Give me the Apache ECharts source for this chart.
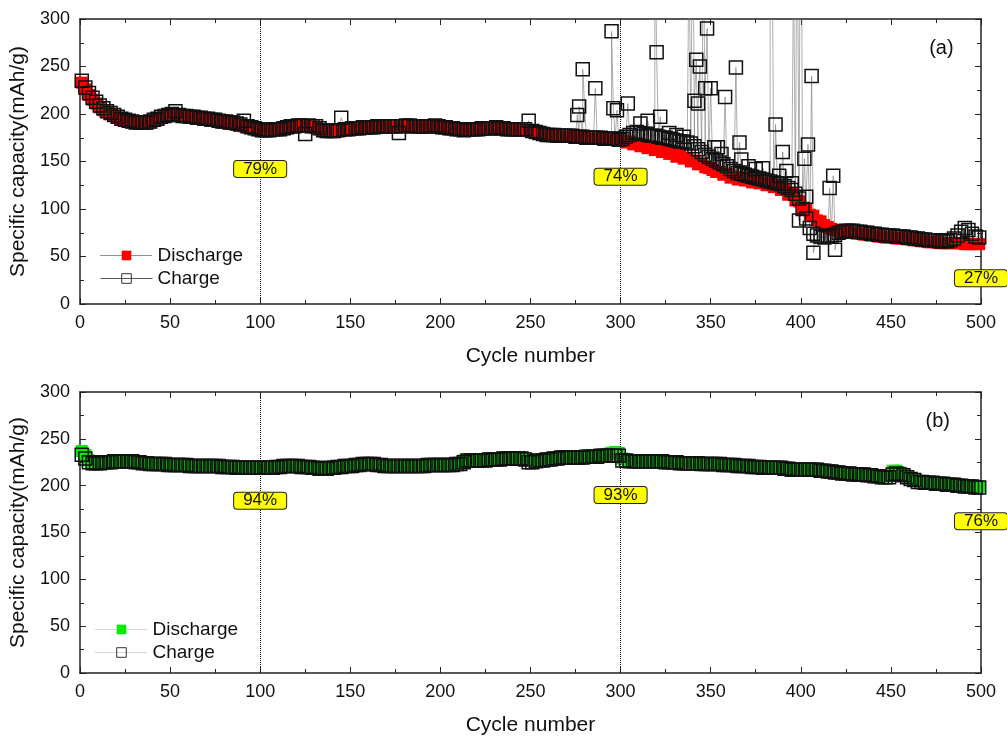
<!DOCTYPE html>
<html>
<head>
<meta charset="utf-8">
<script src="https://cdn.jsdelivr.net/npm/echarts@6/dist/echarts.min.js"></script>
<style>
html, body { margin: 0; padding: 0; background: #fff; }
#chart { width: 1007px; height: 737px; }
</style>
</head>
<body>
<div id="chart"></div>
<script>
// values read every 2nd cycle: 1, 3, 5, ... 499
const CYCLE_START = 1
const CYCLE_STEP = 2

// (a) discharge / charge capacity, mAh/g (one row = 50 cycles)
const dischargeA = [
  233, 226, 220, 215, 211, 207, 204, 202, 200, 198, 196, 194, 193, 192, 191, 190, 190, 190, 190, 191, 193, 194, 196, 197, 198,
  198, 199, 198, 197, 197, 196, 196, 195, 195, 194, 194, 193, 193, 192, 191, 191, 190, 190, 189, 188, 187, 186, 185, 184, 183,
  182, 182, 182, 183, 183, 183, 184, 185, 186, 186, 187, 187, 188, 187, 186, 186, 184, 182, 181, 181, 181, 182, 182, 183, 183,
  184, 184, 184, 185, 185, 185, 185, 186, 186, 186, 186, 186, 186, 186, 186, 187, 187, 186, 186, 186, 186, 186, 186, 187, 186,
  185, 185, 184, 184, 183, 183, 182, 183, 183, 183, 183, 184, 184, 184, 184, 185, 184, 184, 183, 183, 183, 183, 183, 183, 182,
  181, 180, 179, 178, 177, 177, 177, 176, 176, 176, 176, 176, 175, 175, 175, 174, 174, 174, 174, 174, 173, 173, 173, 173, 172,
  172, 170, 171, 168, 169, 166, 167, 164, 166, 162, 164, 160, 162, 158, 159, 155, 157, 153, 154, 150, 151, 147, 148, 144, 143,
  141, 139, 139, 136, 137, 133, 134, 131, 133, 130, 131, 128, 130, 127, 128, 125, 127, 123, 124, 120, 121, 115, 116, 109, 108,
  100, 99, 94, 93, 88, 87, 83, 81, 79, 78, 77, 76, 76, 75, 75, 74, 74, 73, 73, 72, 72, 71, 71, 70, 70,
  70, 69, 69, 69, 68, 68, 67, 67, 66, 66, 65, 65, 65, 64, 64, 64, 64, 64, 64, 64, 63, 63, 63, 63, 63
]
const chargeA = [
  235, 228, 222, 217, 213, 209, 206, 203, 201, 199, 197, 195, 194, 193, 192, 191, 191, 191, 191, 192, 194, 195, 197, 198, 199,
  200, 203, 199, 198, 198, 197, 197, 196, 196, 195, 195, 194, 194, 193, 192, 192, 191, 191, 190, 189, 193, 187, 186, 185, 184,
  183, 183, 183, 184, 184, 184, 185, 186, 187, 187, 188, 188, 179, 188, 187, 187, 185, 183, 182, 182, 182, 183, 196, 184, 184,
  185, 185, 185, 186, 186, 186, 186, 187, 187, 187, 187, 187, 187, 180, 187, 188, 188, 187, 187, 187, 187, 187, 187, 188, 187,
  186, 186, 185, 185, 184, 184, 183, 184, 184, 184, 184, 185, 185, 185, 185, 186, 185, 185, 184, 184, 184, 184, 184, 184, 193,
  182, 181, 180, 179, 178, 178, 178, 177, 177, 177, 177, 177, 176, 176, 176, 175, 175, 175, 175, 175, 174, 174, 174, 174, 173,
  174, 176, 178, 180, 181, 180, 179, 178, 177, 177, 176, 175, 175, 174, 173, 172, 171, 171, 170, 169, 166, 163, 160, 157, 155,
  153, 151, 149, 147, 145, 142, 140, 138, 137, 136, 135, 134, 133, 132, 131, 130, 129, 128, 127, 126, 124, 122, 120, 116, 111,
  100, 90, 80, 74, 72, 71, 70, 71, 72, 73, 75, 76, 77, 77, 77, 76, 76, 75, 75, 74, 74, 73, 73, 72, 72,
  72, 71, 71, 71, 70, 70, 69, 69, 68, 68, 67, 67, 67, 66, 66, 66, 67, 69, 72, 76, 80, 78, 74, 71, 70
]
// (a) scattered charge points [cycle, capacity]; values above 300 run off the top
const chargeAOutliers = [
  [276, 199], [277, 208], [279, 247], [286, 227], [295, 287], [296, 206], [298, 204],
  [304, 211], [311, 190], [315, 193], [319, 420], [320, 265], [322, 197], [327, 180],
  [331, 178], [335, 176], [338, 380], [340, 450], [341, 214], [342, 257], [343, 211],
  [344, 250], [346, 400], [347, 227], [348, 290], [350, 227], [352, 165], [354, 165],
  [356, 158], [358, 218], [364, 249], [366, 170], [367, 152], [371, 145], [375, 142],
  [379, 143], [383, 500], [384, 420], [386, 189], [388, 135], [390, 160], [392, 140],
  [395, 127], [396, 360], [398, 450], [399, 88], [400, 600], [402, 153], [403, 113],
  [404, 168], [406, 240], [407, 54], [416, 122], [418, 135], [419, 57]
]

// (b) discharge / charge capacity, mAh/g
const dischargeB = [
  237, 233, 227, 225, 225, 225, 226, 226, 226, 227, 227, 227, 227, 227, 227, 226, 226, 225, 225, 224, 224, 224, 224, 224, 223,
  223, 223, 223, 223, 223, 222, 222, 222, 222, 222, 222, 222, 222, 222, 221, 221, 221, 221, 220, 220, 220, 220, 220, 220, 220,
  220, 220, 220, 220, 221, 221, 222, 222, 222, 222, 222, 221, 221, 221, 220, 220, 219, 219, 219, 220, 220, 221, 221, 222, 222,
  222, 223, 223, 224, 224, 224, 224, 223, 223, 222, 222, 222, 222, 222, 222, 222, 222, 222, 222, 222, 222, 223, 223, 223, 223,
  223, 223, 223, 223, 224, 224, 227, 228, 228, 228, 228, 228, 228, 229, 229, 229, 229, 230, 230, 230, 230, 230, 230, 229, 227,
  227, 227, 228, 228, 229, 229, 230, 230, 231, 231, 231, 231, 231, 231, 231, 232, 232, 232, 232, 233, 233, 234, 235, 236, 235,
  229, 228, 227, 227, 227, 227, 227, 227, 227, 227, 227, 227, 226, 226, 226, 226, 225, 225, 225, 225, 225, 225, 224, 224, 224,
  224, 224, 224, 223, 223, 223, 223, 222, 222, 222, 222, 221, 221, 221, 220, 220, 220, 220, 220, 220, 219, 219, 218, 218, 218,
  218, 218, 218, 218, 218, 217, 217, 216, 216, 215, 215, 214, 214, 214, 213, 213, 213, 213, 212, 212, 211, 211, 210, 210, 210,
  216, 216, 214, 212, 210, 208, 207, 205, 205, 204, 204, 204, 203, 203, 203, 202, 202, 202, 201, 201, 200, 200, 200, 199, 199
]
const chargeB = [
  233, 229, 225, 224, 224, 224, 225, 225, 225, 226, 226, 226, 226, 226, 226, 225, 225, 224, 224, 223, 223, 223, 223, 223, 222,
  222, 222, 222, 222, 222, 221, 221, 221, 221, 221, 221, 221, 221, 221, 220, 220, 220, 220, 219, 219, 219, 219, 219, 219, 219,
  219, 219, 219, 219, 220, 220, 221, 221, 221, 221, 221, 220, 220, 220, 219, 219, 218, 218, 218, 219, 219, 220, 220, 221, 221,
  221, 222, 222, 223, 223, 223, 223, 222, 222, 221, 221, 221, 221, 221, 221, 221, 221, 221, 221, 221, 221, 222, 222, 222, 222,
  222, 222, 222, 222, 223, 223, 225, 227, 227, 227, 227, 227, 227, 228, 228, 228, 228, 229, 229, 229, 229, 229, 229, 228, 225,
  225, 226, 227, 227, 228, 228, 229, 229, 230, 230, 230, 230, 230, 230, 230, 231, 231, 231, 231, 232, 232, 232, 232, 232, 232,
  227, 227, 226, 226, 226, 226, 226, 226, 226, 226, 226, 226, 225, 225, 225, 225, 224, 224, 224, 224, 224, 224, 223, 223, 223,
  223, 223, 223, 222, 222, 222, 222, 221, 221, 221, 221, 220, 220, 220, 219, 219, 219, 219, 219, 219, 218, 218, 217, 217, 217,
  217, 217, 217, 217, 217, 216, 216, 215, 215, 214, 214, 213, 213, 213, 212, 212, 212, 212, 211, 211, 210, 210, 209, 209, 209,
  212, 213, 212, 211, 209, 207, 206, 204, 204, 203, 203, 203, 202, 202, 202, 201, 201, 201, 200, 200, 199, 199, 199, 198, 198
]

const xTicks = [0, 50, 100, 150, 200, 250, 300, 350, 400, 450, 500]
const refCycles = [100, 300]
const retentionA = [['79%', 100, 142], ['74%', 300, 134], ['27%', 500, 27]]
const retentionB = [['94%', 100, 184], ['93%', 300, 190], ['76%', 500, 162]]

function pairs(values) {
  return values.map((v, i) => [CYCLE_START + i * CYCLE_STEP, v])
}
let chargeAData = pairs(chargeA).concat(chargeAOutliers)
chargeAData.sort((a, b) => a[0] - b[0])

const FONT = 'Liberation Sans'
const AXIS_COLOR = '#222'

function xAxisFor(gridIndex, top) {
  return {
    type: 'value', gridIndex: gridIndex, position: top ? 'top' : 'bottom',
    min: xTicks[0], max: xTicks[xTicks.length - 1], interval: xTicks[1] - xTicks[0],
    name: top ? '' : 'Cycle number', nameLocation: 'middle', nameGap: 42,
    nameTextStyle: { fontSize: 21, color: '#111', fontFamily: FONT },
    axisLine: { show: true, onZero: false, lineStyle: { color: AXIS_COLOR, width: 1.5 } },
    axisTick: { show: true, inside: true, length: 6, lineStyle: { color: AXIS_COLOR } },
    minorTick: { show: true, splitNumber: 2, length: 4, lineStyle: { color: AXIS_COLOR } },
    axisLabel: { show: !top, fontSize: 18, color: '#111', fontFamily: FONT, margin: 10 },
    splitLine: { show: false }
  }
}
function yAxisFor(gridIndex, right) {
  return {
    type: 'value', gridIndex: gridIndex, position: right ? 'right' : 'left',
    min: 0, max: 300, interval: 50,
    name: right ? '' : 'Specific capacity(mAh/g)', nameLocation: 'middle', nameGap: 40,
    nameTextStyle: { fontSize: 21, color: '#111', fontFamily: FONT },
    axisLine: { show: true, onZero: false, lineStyle: { color: AXIS_COLOR, width: 1.5 } },
    axisTick: { show: true, inside: true, length: 6, lineStyle: { color: AXIS_COLOR } },
    minorTick: { show: true, splitNumber: 2, length: 4, lineStyle: { color: AXIS_COLOR } },
    axisLabel: { show: !right, fontSize: 18, color: '#111', fontFamily: FONT, margin: 10 },
    splitLine: { show: false }
  }
}

const refLines = {
  silent: true, symbol: 'none', animation: false,
  label: { show: false },
  lineStyle: { type: 'dotted', color: '#111', width: 1 },
  data: refCycles.map(c => ({ xAxis: c }))
}
function retentionPoints(list, panel, panelPos) {
  let data = list.map(r => ({
    name: r[0], coord: [r[1], r[2]],
    label: { backgroundColor: '#ffff00', borderColor: '#222', borderWidth: 1,
             borderRadius: 3, padding: [0, 9], lineHeight: 16 }
  }))
  data.push({ name: panel, coord: panelPos, label: { fontSize: 20 } })
  return {
    symbol: 'rect', symbolSize: 0, animation: false, silent: true,
    label: { show: true, position: 'inside', formatter: '{b}', fontSize: 17,
             color: '#111', fontFamily: FONT },
    data: data
  }
}

const legendText = { fontSize: 19, color: '#111', fontFamily: FONT }
function legendItems(names, fill, dischargeLine, chargeLine) {
  return [
    { name: names[0], itemStyle: { color: fill, borderWidth: 0 }, lineStyle: dischargeLine },
    { name: names[1], itemStyle: { color: 'rgba(0,0,0,0)', borderColor: '#333', borderWidth: 1 },
      lineStyle: chargeLine }
  ]
}

let chart = echarts.init(document.getElementById('chart'))
chart.setOption({
  animation: false,
  backgroundColor: '#fff',
  textStyle: { fontFamily: FONT },
  grid: [
    { left: 78, right: 26, top: 19, height: 285 },
    { left: 78, right: 26, top: 392, height: 285 }
  ],
  xAxis: [xAxisFor(0, false), xAxisFor(0, true), xAxisFor(1, false), xAxisFor(1, true)],
  yAxis: [yAxisFor(0, false), yAxisFor(0, true), yAxisFor(1, false), yAxisFor(1, true)],
  legend: [
    {
      data: legendItems(['Discharge', 'Charge'], '#ff0000',
        { type: 'dotted', color: '#222', width: 1 }, { type: 'solid', color: '#555', width: 1 }),
      orient: 'vertical', left: 95, top: 241,
      itemWidth: 52, itemHeight: 12, itemGap: 4,
      textStyle: legendText
    },
    {
      data: legendItems(['Discharge b', 'Charge b'], '#00ee00',
        { type: 'dotted', color: '#aaa', width: 1 }, { type: 'dotted', color: '#aaa', width: 1 }),
      orient: 'vertical', left: 90, top: 615,
      itemWidth: 52, itemHeight: 12, itemGap: 4,
      formatter: name => name.split(' ')[0],
      textStyle: legendText
    }
  ],
  series: [
    {
      name: 'Discharge', type: 'line', xAxisIndex: 0, yAxisIndex: 0,
      data: pairs(dischargeA), symbol: 'rect', symbolSize: 12, showAllSymbol: true,
      itemStyle: { color: '#ff0000' },
      lineStyle: { type: 'dotted', color: '#333', width: 1 },
      markLine: refLines,
      markPoint: retentionPoints(retentionA, '(a)', [478, 269])
    },
    {
      name: 'Charge', type: 'line', xAxisIndex: 0, yAxisIndex: 0,
      data: chargeAData, symbol: 'rect', symbolSize: 13, showAllSymbol: true,
      itemStyle: { color: 'rgba(0,0,0,0)', borderColor: '#111', borderWidth: 1.5 },
      lineStyle: { color: '#777', width: 0.6 }
    },
    {
      name: 'Discharge b', type: 'line', xAxisIndex: 2, yAxisIndex: 2,
      data: pairs(dischargeB), symbol: 'rect', symbolSize: 12, showAllSymbol: true,
      itemStyle: { color: '#00ee00' },
      lineStyle: { type: 'dotted', color: '#999', width: 1 },
      markLine: refLines,
      markPoint: retentionPoints(retentionB, '(b)', [476, 268])
    },
    {
      name: 'Charge b', type: 'line', xAxisIndex: 2, yAxisIndex: 2,
      data: pairs(chargeB), symbol: 'rect', symbolSize: 13, showAllSymbol: true,
      itemStyle: { color: 'rgba(0,0,0,0)', borderColor: '#111', borderWidth: 1.5 },
      lineStyle: { type: 'dotted', color: '#999', width: 0.8 }
    }
  ]
})
</script>
</body>
</html>
